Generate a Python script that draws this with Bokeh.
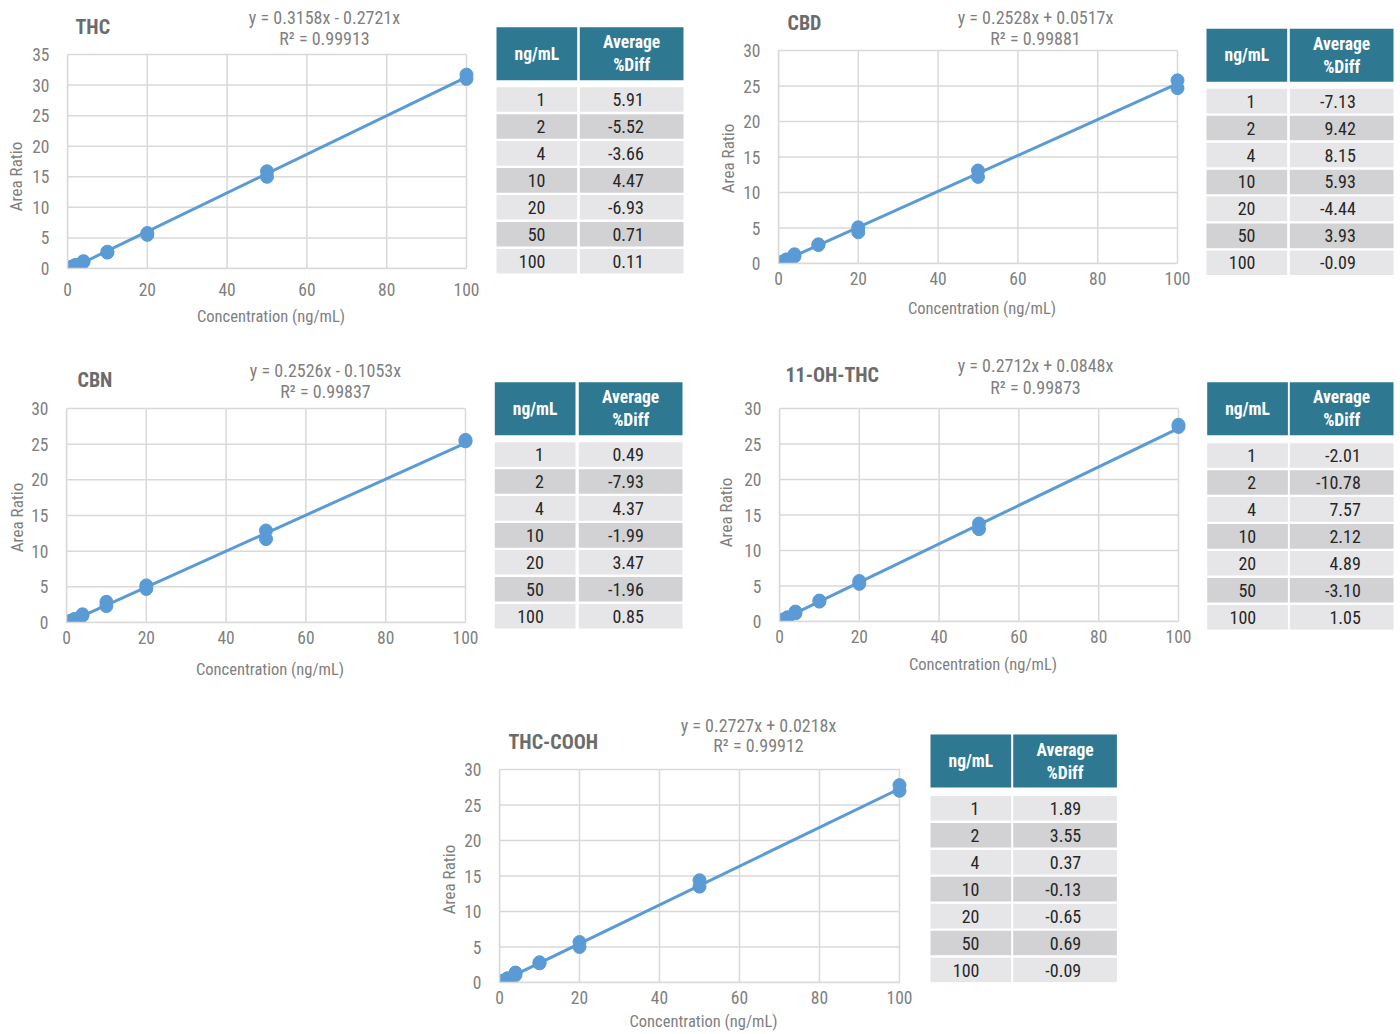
import math
from bokeh.plotting import figure
from bokeh.models import Range1d, FixedTicker, Spacer, ColumnDataSource
from bokeh.layouts import row, column
from bokeh.core.properties import value
from bokeh.embed import file_html
from bokeh.resources import INLINE

# ---------------- data ----------------
conc = [1, 2, 4, 10, 20, 50, 100]

analytes = ["THC", "CBD", "CBN", "11-OH-THC", "THC-COOH"]

slopes = [0.3158, 0.2528, 0.2526, 0.2712, 0.2727]
intercepts = [-0.2721, 0.0517, -0.1053, 0.0848, 0.0218]
r_squared = ["0.99913", "0.99881", "0.99837", "0.99873", "0.99912"]

# replicate area ratios (two replicates per level)
thc_rep_a = [0.24, 0.52, 1.05, 2.6, 5.5, 15.0, 31.0]
thc_rep_b = [0.30, 0.58, 1.20, 2.75, 5.8, 15.9, 31.7]
cbd_rep_a = [0.20, 0.48, 1.00, 2.6, 4.4, 12.2, 24.7]
cbd_rep_b = [0.26, 0.58, 1.30, 2.7, 5.1, 13.1, 25.8]
cbn_rep_a = [0.18, 0.40, 0.95, 2.3, 4.7, 11.7, 25.4]
cbn_rep_b = [0.24, 0.50, 1.15, 2.9, 5.2, 12.9, 25.6]
oh_rep_a = [0.22, 0.50, 1.15, 2.8, 5.3, 13.0, 27.4]
oh_rep_b = [0.30, 0.60, 1.40, 2.95, 5.7, 13.8, 27.7]
cooh_rep_a = [0.22, 0.50, 1.05, 2.7, 5.0, 13.5, 27.0]
cooh_rep_b = [0.28, 0.60, 1.40, 2.85, 5.7, 14.4, 27.8]

reps = [(thc_rep_a, thc_rep_b), (cbd_rep_a, cbd_rep_b), (cbn_rep_a, cbn_rep_b),
        (oh_rep_a, oh_rep_b), (cooh_rep_a, cooh_rep_b)]

# average %Diff tables
table_conc = ["1", "2", "4", "10", "20", "50", "100"]
thc_diff = ["5.91", "-5.52", "-3.66", "4.47", "-6.93", "0.71", "0.11"]
cbd_diff = ["-7.13", "9.42", "8.15", "5.93", "-4.44", "3.93", "-0.09"]
cbn_diff = ["0.49", "-7.93", "4.37", "-1.99", "3.47", "-1.96", "0.85"]
oh_diff = ["-2.01", "-10.78", "7.57", "2.12", "4.89", "-3.10", "1.05"]
cooh_diff = ["1.89", "3.55", "0.37", "-0.13", "-0.65", "0.69", "-0.09"]
diffs = [thc_diff, cbd_diff, cbn_diff, oh_diff, cooh_diff]

y_max = [35, 30, 30, 30, 30]
x_ticks = [0, 20, 40, 60, 80, 100]

# ---------------- styles / layout ----------------
FONT = "Roboto Condensed"
GRID = "#d9d9d9"
BLUE = "#5b9bd5"
TXT = "#7f7f7f"
TEAL = "#2e7891"
ROW_LIGHT = "#e6e6e8"
ROW_DARK = "#d2d2d4"
EXT = 8  # extra frame room (px) right of x=100 so the last markers are not cut

# top = frame top (value y_max) measured from figure top; figures in a row share bb
chart_cfg = [
    dict(w=456, h=338, bl=43, br=14, bb=70, top=54, xs=14, xals=8,
         t_dx=8, t_dy=28, eq_dx=257, eq1=37.5, eq2=16),
    dict(w=460, h=333, bl=42, br=19, bb=70, top=50, xs=8, xals=11,
         t_dx=9, t_dy=27.5, eq_dx=257, eq1=33.5, eq2=12),
    dict(w=454, h=342, bl=40, br=15, bb=65, top=63, xs=8, xals=13,
         t_dx=11, t_dy=28.5, eq_dx=259, eq1=38, eq2=17.5),
    dict(w=461, h=341, bl=44, br=18, bb=65, top=63, xs=8, xals=9,
         t_dx=6, t_dy=34, eq_dx=256, eq1=43, eq2=21),
    dict(w=462, h=334, bl=41, br=21, bb=52, top=69, xs=8, xals=5,
         t_dx=9, t_dy=28, eq_dx=259, eq1=44.5, eq2=24),
]

# strips holding the rotated "Area Ratio" titles
strip_cfg = [
    dict(w=24, h=345, bb=70, x=15, y=176),
    dict(w=36, h=345, bb=70, x=27, y=158),
    dict(w=26, h=355, bb=65, x=16.5, y=172),
    dict(w=35, h=355, bb=65, x=25.5, y=167),
    dict(w=38, h=334, bb=52, x=28.5, y=179),
]

table_cfg = [
    dict(w=220, h=345, bb=70, c1=16, c2=99.3, hy=26.7, ry=86.7, r2=64),
    dict(w=204, h=345, bb=70, c1=10, c2=93.3, hy=28.3, ry=88.3, r2=66),
    dict(w=220, h=355, bb=65, c1=14.3, c2=98.3, hy=36.7, ry=96.7, r2=65),
    dict(w=204, h=355, bb=65, c1=10.7, c2=93.3, hy=36.7, ry=97.7, r2=71),
    dict(w=210, h=334, bb=52, c1=10, c2=92.7, hy=34, ry=95.5, r2=68),
]
C1W, C2W, HEAD_H, ROW_PITCH, ROW_H = 80.7, 103.7, 53, 26.95, 24.6


def blank(w, h, bb, x_end, y_start):
    p = figure(width=w, height=h, output_backend="svg", toolbar_location=None,
               x_range=Range1d(0, x_end), y_range=Range1d(y_start, 0),
               x_axis_location=None, y_axis_location=None,
               min_border_left=0, min_border_right=0, min_border_top=0,
               min_border_bottom=bb)
    p.grid.visible = False
    p.outline_line_color = None
    p.background_fill_color = "white"
    p.border_fill_color = "white"
    return p


def make_strip(i):
    cfg = strip_cfg[i]
    p = blank(cfg["w"], cfg["h"], cfg["bb"], cfg["w"], cfg["h"] - cfg["bb"])
    p.text(x=[cfg["x"]], y=[cfg["y"]], text=["Area Ratio"], angle=math.pi / 2,
           text_font=value(FONT), text_font_size="17px", text_color=TXT,
           text_align="center", text_baseline="middle")
    return p


def make_chart(i):
    cfg = chart_cfg[i]
    ym = y_max[i]
    frame_h = cfg["h"] - cfg["bb"]
    frame_w = cfg["w"] - cfg["bl"] - cfg["br"]
    ppu = (frame_h - cfg["top"]) / ym      # pixels per y unit
    ppx = frame_w / 100.0                  # pixels per x unit
    y_top = frame_h / ppu
    x_end = 100 + EXT / ppx
    p = figure(width=cfg["w"], height=cfg["h"], output_backend="svg", toolbar_location=None,
               x_range=Range1d(0, x_end), y_range=Range1d(0, y_top),
               min_border_left=cfg["bl"], min_border_right=cfg["br"] - EXT,
               min_border_top=0, min_border_bottom=cfg["bb"])
    p.background_fill_color = "white"
    p.border_fill_color = "white"
    p.outline_line_color = None
    p.grid.visible = False

    yt = list(range(0, ym + 1, 5))
    p.xaxis.ticker = FixedTicker(ticks=x_ticks)
    p.yaxis.ticker = FixedTicker(ticks=yt)
    p.yaxis.bounds = (0, ym)
    p.xaxis.bounds = (0, 100)
    for ax in (p.xaxis, p.yaxis):
        ax.axis_line_color = GRID
        ax.axis_line_width = 1.5
        ax.major_tick_line_color = None
        ax.minor_tick_line_color = None
        ax.major_tick_out = 0
        ax.major_label_text_font = FONT
        ax.major_label_text_font_size = "17.5px"
        ax.major_label_text_color = TXT
    p.xaxis.major_label_standoff = int(round(cfg["xs"]))
    p.yaxis.major_label_standoff = 18
    p.xaxis.axis_label = "Concentration (ng/mL)"
    p.xaxis.axis_label_standoff = int(round(cfg["xals"]))
    p.xaxis.axis_label_text_font = FONT
    p.xaxis.axis_label_text_font_size = "16.5px"
    p.xaxis.axis_label_text_font_style = "normal"
    p.xaxis.axis_label_text_color = TXT

    # grid lines (incl. top and right edges of the plot box) at the tick values
    p.segment(x0=x_ticks, y0=[0] * len(x_ticks), x1=x_ticks, y1=[ym] * len(x_ticks),
              line_color=GRID, line_width=1.5)
    p.segment(x0=[0] * len(yt), y0=yt, x1=[100] * len(yt), y1=yt,
              line_color=GRID, line_width=1.5)

    xs0, xs1 = min(conc), max(conc)
    p.line([xs0, xs1], [slopes[i] * xs0 + intercepts[i], slopes[i] * xs1 + intercepts[i]],
           line_color=BLUE, line_width=3)
    ra, rb = reps[i]
    src = ColumnDataSource(dict(x=conc + conc, y=ra + rb))
    p.scatter("x", "y", source=src, size=13, color=BLUE, marker="circle")

    # chart title
    p.text(x=[cfg["t_dx"] / ppx], y=[ym + cfg["t_dy"] / ppu], text=[analytes[i]],
           text_font=value(FONT), text_font_size="20px", text_font_style="bold",
           text_color="#6b6b6b", text_align="left", text_baseline="middle")
    # equation + R²
    sign = "-" if intercepts[i] < 0 else "+"
    eq = f"y = {slopes[i]:.4f}x {sign} {abs(intercepts[i]):.4f}x"
    r2 = f"R\u00b2 = {r_squared[i]}"
    p.text(x=[cfg["eq_dx"] / ppx] * 2,
           y=[ym + cfg["eq1"] / ppu, ym + cfg["eq2"] / ppu], text=[eq, r2],
           text_font=value(FONT), text_font_size="18px", text_color=TXT,
           text_align="center", text_baseline="middle")
    return p


def make_table(i):
    cfg = table_cfg[i]
    w, h, bb = cfg["w"], cfg["h"], cfg["bb"]
    p = blank(w, h, bb, w, h - bb)
    c1, c2 = cfg["c1"], cfg["c2"]
    hy, ry = cfg["hy"], cfg["ry"]
    p.quad(left=[c1, c2], right=[c1 + C1W, c2 + C2W], top=[hy, hy],
           bottom=[hy + HEAD_H, hy + HEAD_H], fill_color=TEAL, line_color=None)
    hc = hy + HEAD_H / 2
    p.text(x=[c1 + C1W / 2], y=[hc], text=["ng/mL"], text_font=value(FONT),
           text_font_size="17.5px", text_font_style="bold", text_color="white",
           text_align="center", text_baseline="middle")
    p.text(x=[c2 + C2W / 2, c2 + C2W / 2], y=[hc - 11.5, hc + 11.5], text=["Average", "%Diff"],
           text_font=value(FONT), text_font_size="17.5px", text_font_style="bold",
           text_color="white", text_align="center", text_baseline="middle")
    n = len(table_conc)
    tops = [ry + k * ROW_PITCH for k in range(n)]
    cols = [ROW_LIGHT if k % 2 == 0 else ROW_DARK for k in range(n)]
    for left, width in ((c1, C1W), (c2, C2W)):
        p.quad(left=[left] * n, right=[left + width] * n, top=tops,
               bottom=[t + ROW_H for t in tops], fill_color=cols, line_color=None)
    mids = [t + ROW_H / 2 for t in tops]
    p.text(x=[c1 + 49] * n, y=mids, text=table_conc, text_font=value(FONT),
           text_font_size="18px", text_color="#262626", text_align="right",
           text_baseline="middle")
    p.text(x=[c2 + cfg["r2"]] * n, y=mids, text=diffs[i], text_font=value(FONT),
           text_font_size="18px", text_color="#262626", text_align="right",
           text_baseline="middle")
    return p


charts = [make_chart(i) for i in range(5)]
strips = [make_strip(i) for i in range(5)]
tables = [make_table(i) for i in range(5)]

layout = column(
    row(strips[0], charts[0], tables[0], strips[1], charts[1], tables[1]),
    row(strips[2], charts[2], tables[2], strips[3], charts[3], tables[3]),
    row(Spacer(width=420, height=334), strips[4], charts[4], tables[4]),
)

open("out.html", "w").write(file_html(layout, INLINE, title="Calibration curves"))
